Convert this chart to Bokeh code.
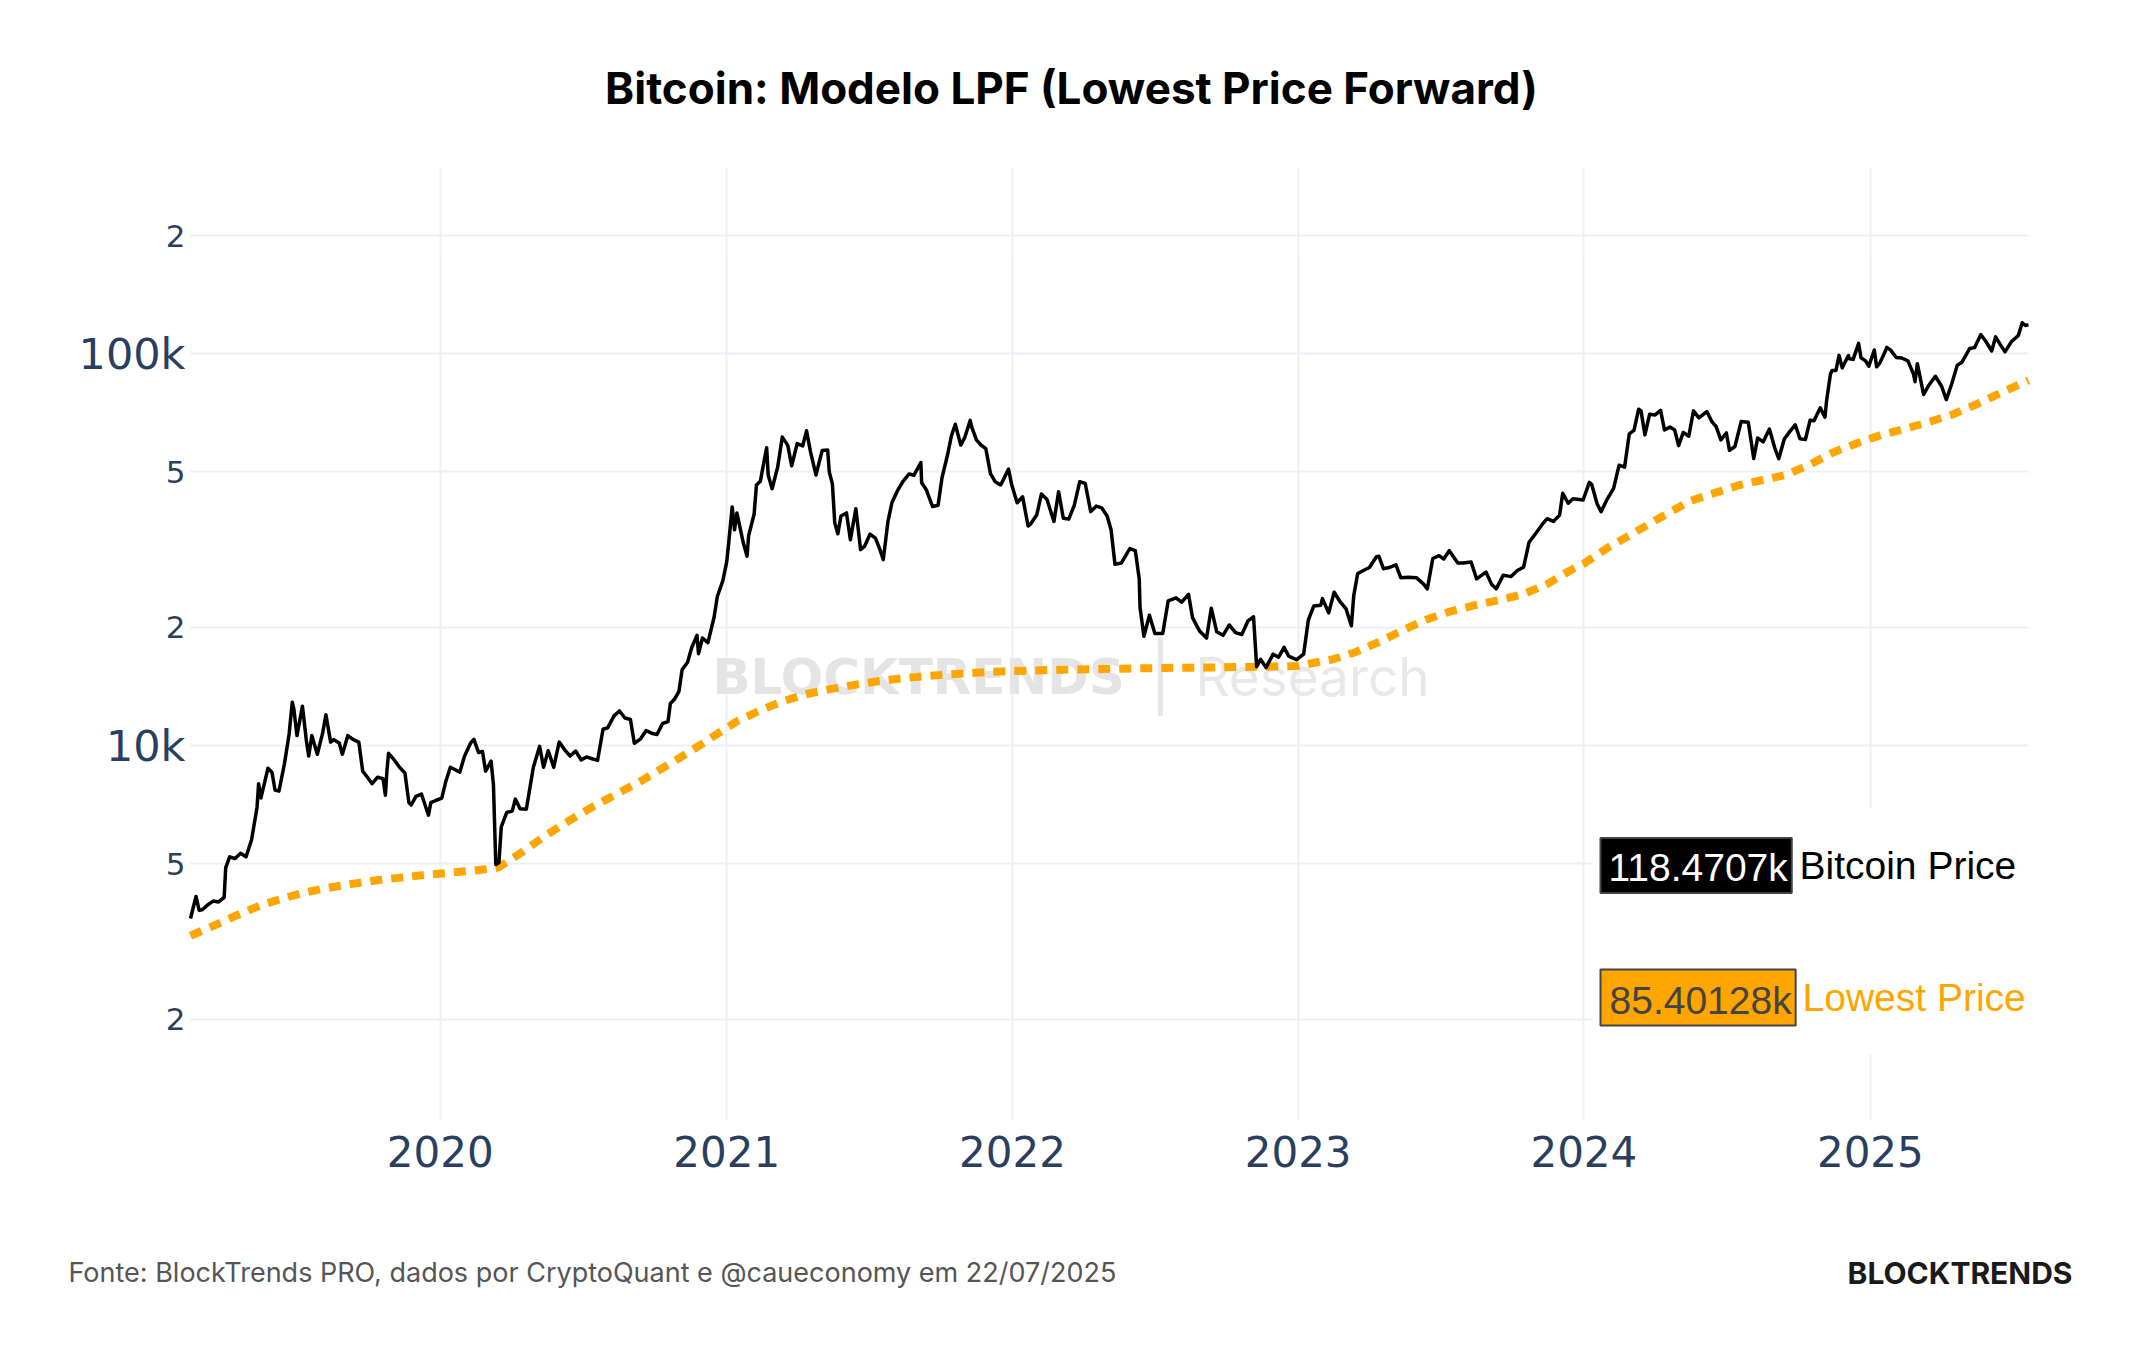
import pandas as pd
from bokeh.plotting import figure
from bokeh.layouts import column
from bokeh.models import (Label, FixedTicker, BoxAnnotation, Range1d)
from bokeh.core.properties import value
from bokeh.embed import file_html
from bokeh.resources import INLINE

# ---------------- data ----------------
btc_dates = [
"2019-02-16","2019-02-23","2019-02-27","2019-03-03","2019-03-10","2019-03-17","2019-03-24","2019-03-31",
"2019-04-02","2019-04-07","2019-04-14","2019-04-21","2019-04-28","2019-05-05","2019-05-12","2019-05-14",
"2019-05-17","2019-05-21","2019-05-26","2019-05-31","2019-06-04","2019-06-09","2019-06-16","2019-06-22",
"2019-06-26","2019-06-28","2019-07-02","2019-07-09","2019-07-14","2019-07-17","2019-07-21","2019-07-28",
"2019-08-04","2019-08-08","2019-08-14","2019-08-18","2019-08-25","2019-08-29","2019-09-05","2019-09-12",
"2019-09-19","2019-09-24","2019-09-30","2019-10-06","2019-10-13","2019-10-20","2019-10-23","2019-10-25",
"2019-10-27","2019-11-03","2019-11-10","2019-11-17","2019-11-22","2019-11-25","2019-12-01","2019-12-08",
"2019-12-17","2019-12-20","2019-12-27",
"2020-01-03","2020-01-08","2020-01-14","2020-01-19","2020-01-26","2020-02-01","2020-02-09","2020-02-13",
"2020-02-19","2020-02-24","2020-02-28","2020-03-06","2020-03-09","2020-03-12","2020-03-16","2020-03-19",
"2020-03-26","2020-04-02","2020-04-06","2020-04-12","2020-04-20","2020-04-29","2020-05-07","2020-05-12",
"2020-05-18","2020-05-25","2020-06-01","2020-06-08","2020-06-15","2020-06-22","2020-06-29","2020-07-06",
"2020-07-13","2020-07-20","2020-07-27","2020-08-02","2020-08-10","2020-08-17","2020-08-24","2020-08-31",
"2020-09-05","2020-09-13","2020-09-20","2020-09-27","2020-10-04","2020-10-11","2020-10-18","2020-10-21",
"2020-10-26","2020-11-01","2020-11-05","2020-11-12","2020-11-17","2020-11-24","2020-11-26","2020-12-01",
"2020-12-08","2020-12-16","2020-12-20","2020-12-27",
"2021-01-01","2021-01-03","2021-01-08","2021-01-11","2021-01-14","2021-01-22","2021-01-27","2021-01-29",
"2021-02-05","2021-02-08","2021-02-13","2021-02-17","2021-02-21","2021-02-23","2021-02-28","2021-03-07",
"2021-03-13","2021-03-20","2021-03-25","2021-04-01","2021-04-08","2021-04-13","2021-04-18","2021-04-25",
"2021-05-03","2021-05-10","2021-05-12","2021-05-16","2021-05-19","2021-05-23","2021-05-27","2021-06-03",
"2021-06-08","2021-06-15","2021-06-21","2021-06-26","2021-07-03","2021-07-10","2021-07-16","2021-07-20",
"2021-07-26","2021-07-31","2021-08-07","2021-08-14","2021-08-22","2021-08-28","2021-09-06","2021-09-07",
"2021-09-13","2021-09-21","2021-09-28","2021-10-03","2021-10-10","2021-10-15","2021-10-20","2021-10-27",
"2021-11-01","2021-11-08","2021-11-10","2021-11-16","2021-11-21","2021-11-28","2021-12-04","2021-12-10",
"2021-12-17","2021-12-27","2021-12-31",
"2022-01-07","2022-01-14","2022-01-21","2022-01-24","2022-02-01","2022-02-07","2022-02-14","2022-02-23",
"2022-03-01","2022-03-07","2022-03-14","2022-03-21","2022-03-28","2022-04-04","2022-04-11","2022-04-18",
"2022-04-25","2022-05-02","2022-05-07","2022-05-12","2022-05-20","2022-05-31","2022-06-07","2022-06-12",
"2022-06-13","2022-06-18","2022-06-25","2022-07-02","2022-07-12","2022-07-19","2022-07-29","2022-08-05",
"2022-08-14","2022-08-19","2022-08-28","2022-09-06","2022-09-12","2022-09-19","2022-09-27","2022-10-05",
"2022-10-13","2022-10-21","2022-10-29","2022-11-05","2022-11-09","2022-11-14","2022-11-21","2022-11-30",
"2022-12-07","2022-12-14","2022-12-20","2022-12-30",
"2023-01-08","2023-01-14","2023-01-21","2023-01-30","2023-02-01","2023-02-09","2023-02-16","2023-02-24",
"2023-03-03","2023-03-10","2023-03-13","2023-03-18","2023-03-26","2023-04-02","2023-04-11","2023-04-14",
"2023-04-20","2023-04-26","2023-05-06","2023-05-12","2023-05-22","2023-06-01","2023-06-10","2023-06-15",
"2023-06-22","2023-06-30","2023-07-06","2023-07-13","2023-07-24","2023-07-31","2023-08-10","2023-08-17",
"2023-08-29","2023-09-05","2023-09-11","2023-09-20","2023-09-30","2023-10-08","2023-10-16","2023-10-23",
"2023-10-31","2023-11-09","2023-11-15","2023-11-23","2023-12-01","2023-12-05","2023-12-12","2023-12-18",
"2023-12-31",
"2024-01-08","2024-01-11","2024-01-18","2024-01-23","2024-01-31","2024-02-08","2024-02-15","2024-02-22",
"2024-02-28","2024-03-05","2024-03-11","2024-03-14","2024-03-19","2024-03-25","2024-04-01","2024-04-08",
"2024-04-13","2024-04-20","2024-04-26","2024-05-01","2024-05-07","2024-05-14","2024-05-20","2024-05-27",
"2024-06-06","2024-06-13","2024-06-18","2024-06-24","2024-07-01","2024-07-05","2024-07-12","2024-07-20",
"2024-07-29","2024-08-05","2024-08-10","2024-08-17","2024-08-25","2024-09-01","2024-09-06","2024-09-13",
"2024-09-20","2024-09-27","2024-10-03","2024-10-10","2024-10-16","2024-10-21","2024-10-29","2024-11-04",
"2024-11-06","2024-11-11","2024-11-13","2024-11-18","2024-11-22","2024-11-26","2024-12-04","2024-12-05",
"2024-12-10","2024-12-17","2024-12-20","2024-12-26","2024-12-30",
"2025-01-06","2025-01-09","2025-01-13","2025-01-20","2025-01-22","2025-01-27","2025-02-03","2025-02-10",
"2025-02-18","2025-02-25","2025-02-27","2025-03-02","2025-03-10","2025-03-16","2025-03-25","2025-04-02",
"2025-04-08","2025-04-15","2025-04-22","2025-04-28","2025-05-08","2025-05-14","2025-05-22","2025-05-28",
"2025-06-05","2025-06-10","2025-06-17","2025-06-22","2025-06-30","2025-07-09","2025-07-14","2025-07-18",
"2025-07-22",
]
btc_prices = [
3620,4120,3800,3810,3920,4010,3990,4100,
4880,5200,5150,5310,5200,5750,6950,7990,
7350,7950,8750,8550,7700,7650,8980,10700,
12900,12400,10600,12600,10300,9400,10600,9500,
10800,11980,10200,10350,10150,9500,10600,10350,
10200,8600,8300,7990,8300,8230,7470,8660,
9550,9200,8800,8500,7150,7050,7420,7520,
6640,7150,7250,
7340,8080,8800,8700,8550,9390,10160,10370,
9600,9650,8600,9120,7950,4970,5020,6200,
6750,6800,7300,6900,6880,8800,9950,8800,
9700,8800,10200,9750,9400,9680,9190,9350,
9250,9160,11000,11100,11900,12250,11750,11650,
10130,10400,10920,10750,10670,11380,11500,12800,
13100,13750,15600,16300,17700,19100,17150,18800,
18300,21300,24000,26300,
29400,32100,40600,35500,39200,33000,30400,34300,
38900,46200,47200,52200,57500,48900,45200,51200,
61200,58300,51700,58900,58100,63500,56200,49000,
56600,56700,49900,46500,37000,34700,38500,39200,
33500,40200,31600,32200,34600,33800,31500,29800,
37300,41600,44600,47100,49300,48900,52700,46800,
44900,40700,41000,48200,55000,61600,66000,58400,
61000,67500,64900,60200,58600,57200,49300,47100,
46200,50700,46300,
41600,43100,36300,36700,38700,43800,42500,37300,
44400,38000,37800,41000,47100,46600,39500,40800,
40400,38500,35500,29000,29200,31800,31400,26600,
22500,19000,21500,19300,19300,23400,23800,23200,
24300,21200,19600,18800,22400,19500,19100,20300,
19400,19200,20800,21300,15900,16600,15800,17100,
16800,17800,16900,16550,
17100,20900,22700,22800,23700,21800,24600,23200,
22350,20200,24100,27450,27990,28450,30300,30400,
28250,28400,28900,26800,26850,26800,25850,25100,
30000,30500,29900,31400,29200,29200,29400,26600,
27700,25800,25100,27200,26970,27950,28500,33000,
34650,36700,37900,37300,38700,44000,41500,42600,
42300,
46900,46300,41300,39500,42600,45300,51900,51300,
62400,63700,72100,71400,62000,70000,69700,71600,
63800,64900,63800,58200,62900,61500,71400,68500,
71100,66800,65100,60200,62700,56600,57900,67100,
66800,54000,60900,59500,64200,57300,53900,60500,
63200,65800,60600,60300,67600,67400,72700,68800,
75600,88700,90500,90500,98900,91900,98800,97000,
96600,106100,97500,95700,92800,
102100,92500,94500,101300,103700,102000,97700,97400,
95800,88700,84700,94200,78600,82600,87500,82500,
76300,83700,93400,95000,103000,103500,111700,107800,
101500,110300,104600,101000,107100,111200,119800,117900,
118470,
]

lpf_dates = [
"2019-02-16","2019-03-15","2019-04-15","2019-05-15","2019-06-15","2019-07-15","2019-08-15","2019-09-15",
"2019-10-15","2019-11-15","2019-12-15","2020-01-15","2020-02-15","2020-03-15","2020-04-15","2020-05-15",
"2020-06-15","2020-07-15","2020-08-15","2020-09-15","2020-10-15","2020-11-15","2020-12-15","2021-01-15",
"2021-02-15","2021-03-15","2021-04-15","2021-05-15","2021-06-15","2021-07-15","2021-08-15","2021-09-15",
"2021-10-15","2021-11-15","2021-12-15","2022-01-15","2022-03-15","2022-05-15","2022-07-15","2022-09-15",
"2022-11-15","2022-12-31","2023-02-15","2023-03-15","2023-04-15","2023-05-15","2023-06-15","2023-07-15",
"2023-08-15","2023-09-15","2023-10-15","2023-11-15","2023-12-15","2024-01-01","2024-02-01","2024-03-01",
"2024-04-01","2024-05-15","2024-06-15","2024-07-15","2024-08-15","2024-09-15","2024-10-15","2024-11-15",
"2024-12-15","2025-01-15","2025-02-15","2025-03-15","2025-04-15","2025-05-15","2025-06-15","2025-07-22",
]
lpf_prices = [
3270,3450,3680,3900,4080,4230,4350,4450,
4540,4610,4680,4740,4800,4880,5350,5900,
6450,7000,7550,8150,8850,9650,10550,11550,
12350,13000,13550,13950,14300,14600,14850,15050,
15200,15330,15440,15520,15620,15700,15770,15820,
15880,15950,16600,17300,18400,19700,21000,22000,
22800,23500,24300,25800,28000,29100,32000,34500,
37500,42000,44000,46000,47500,49000,52000,56000,
59000,62000,64300,66700,69800,74000,79000,85401,
]

y_major_ticks = [10000, 100000]
y_major_labels = ["10k", "100k"]
y_minor_ticks = [2000, 5000, 20000, 50000, 200000]
y_minor_labels = ["2", "5", "2", "5", "2"]
x_years = [2020, 2021, 2022, 2023, 2024, 2025]

title_text = "Bitcoin: Modelo LPF (Lowest Price Forward)"
source_text = "Fonte: BlockTrends PRO, dados por CryptoQuant e @caueconomy em 22/07/2025"
brand_text = "BLOCKTRENDS"
last_btc_text = "118.4707k"
last_lpf_text = "85.40128k"

# ---------------- layout constants ----------------
W = 2144
HEAD_H = 167
FOOT_H = 150
MAIN_H = 1350 - HEAD_H - FOOT_H     # 1033
MB = 80
FH = MAIN_H - MB                      # 953
PL, PR = 190, 2028                    # plot region (data extent) on the canvas
GRID = "#EBF0F8"
TICK = "#2a3f5f"


def blank_fig(h):
    f = figure(width=W, height=h, x_range=Range1d(0, W), y_range=Range1d(0, h),
               output_backend="svg", toolbar_location=None,
               x_axis_location=None, y_axis_location=None,
               min_border=0, min_border_left=0, min_border_right=0,
               min_border_top=0, min_border_bottom=0)
    for g in f.grid:
        g.visible = False
    f.outline_line_color = None
    f.background_fill_color = "white"
    f.border_fill_color = "white"
    return f


# ---------------- header ----------------
head = blank_fig(HEAD_H)
head.add_layout(Label(x=1071, y=HEAD_H - 87, text=title_text,
                      text_font="Inter", text_font_style="bold", text_font_size="44px",
                      text_color="black", text_align="center", text_baseline="middle"))

# ---------------- main chart ----------------
bd = pd.to_datetime(btc_dates)
ld = pd.to_datetime(lpf_dates)
t0, t1 = bd[0], bd[-1]
mpp = (t1 - t0) / (PR - PL)           # time per pixel
xr = Range1d(t0 - PL * mpp, t1 + (W - PR) * mpp)

p = figure(width=W, height=MAIN_H, x_axis_type="datetime", y_axis_type="log",
           y_axis_location=None,
           output_backend="svg", toolbar_location=None,
           x_range=xr, y_range=Range1d(1105, 298200),
           min_border_left=0, min_border_right=0, min_border_top=0, min_border_bottom=MB,
           background_fill_color="white", border_fill_color="white")
p.outline_line_color = None
for g in p.ygrid:
    g.visible = False

xticks = [pd.Timestamp(f"{y}-01-01").value // 10**6 for y in x_years]
p.xaxis.ticker = FixedTicker(ticks=xticks)
p.xaxis.major_label_overrides = {t: str(y) for t, y in zip(xticks, x_years)}
ax = p.xaxis[0]
ax.axis_line_color = None
ax.major_tick_line_color = None
ax.minor_tick_line_color = None
ax.major_tick_out = 0
ax.major_tick_in = 0
ax.major_label_text_font = "DejaVu Sans"
ax.major_label_text_color = TICK
ax.major_label_text_font_size = "42px"
ax.major_label_standoff = 15

p.xgrid.grid_line_color = GRID
p.xgrid.grid_line_width = 2
p.xgrid.ticker = ax.ticker

# horizontal grid lines, spanning the data extent
all_y = sorted(y_minor_ticks + y_major_ticks)
p.segment(x0=[t0] * len(all_y), x1=[t1] * len(all_y), y0=all_y, y1=all_y,
          line_color=GRID, line_width=2)

# y tick labels (plotly-style log labels: large decades, small sub-labels)
p.text(x=[t0] * len(y_major_ticks), y=y_major_ticks, text=y_major_labels,
       x_offset=-5, text_align="right", text_baseline="middle",
       text_font=value("DejaVu Sans"), text_font_size="43px", text_color=TICK)
p.text(x=[t0] * len(y_minor_ticks), y=y_minor_ticks, text=y_minor_labels,
       x_offset=-5, text_align="right", text_baseline="middle",
       text_font=value("DejaVu Sans"), text_font_size="31px", text_color=TICK)

FB = HEAD_H + FH   # canvas y of frame bottom = 1120


def fy(y):
    return FB - y


# watermark
wm_y = fy(676)
p.add_layout(Label(x=712, y=wm_y, x_units="screen", y_units="screen", text="BLOCKTRENDS",
                   text_font="DejaVu Sans", text_font_style="bold", text_font_size="50px",
                   text_color="#e4e4e4", text_baseline="middle", level="underlay"))
p.add_layout(Label(x=1160, y=wm_y, x_units="screen", y_units="screen", text="|",
                   text_font="Inter", text_font_size="66px",
                   text_color="#e6e6e6", text_baseline="middle", text_align="center", level="underlay"))
p.add_layout(Label(x=1195, y=wm_y, x_units="screen", y_units="screen", text="Research",
                   text_font="Inter", text_font_size="53px",
                   text_color="#e8e8e8", text_baseline="middle", level="underlay"))

# lines
p.line(ld, lpf_prices, line_color="#FFA500", line_width=8, line_dash="12 9")
p.line(bd, btc_prices, line_color="black", line_width=3.5, line_join="round")

# white background behind value annotations (covers grid)
p.add_layout(BoxAnnotation(left=1592, right=PR + 4, bottom=fy(1053), top=fy(808),
                           left_units="screen", right_units="screen",
                           bottom_units="screen", top_units="screen",
                           fill_color="white", fill_alpha=1.0, line_color=None, level="glyph"))

# value annotations
p.add_layout(Label(x=1600, y=fy(865), x_units="screen", y_units="screen",
                   text=last_btc_text, text_font="Liberation Sans", text_font_size="39px",
                   text_color="white", text_baseline="middle",
                   background_fill_color="black", border_line_color="#444444", border_line_width=2,
                   padding=(8, 4, 8, 4)))
p.add_layout(Label(x=1799, y=fy(865), x_units="screen", y_units="screen",
                   text="Bitcoin Price", text_font="Liberation Sans", text_font_size="39px",
                   text_color="black", text_baseline="middle"))
p.add_layout(Label(x=1600, y=fy(997), x_units="screen", y_units="screen",
                   text=last_lpf_text, text_font="Liberation Sans", text_font_size="39px",
                   text_color="#444444", text_baseline="middle",
                   background_fill_color="#FFA500", border_line_color="#444444", border_line_width=2,
                   padding=(9, 4, 9, 4)))
p.add_layout(Label(x=1802, y=fy(997), x_units="screen", y_units="screen",
                   text="Lowest Price", text_font="Liberation Sans", text_font_size="39px",
                   text_color="#FFA500", text_baseline="middle"))

# ---------------- footer ----------------
foot = blank_fig(FOOT_H)
foot.add_layout(Label(x=68, y=FOOT_H - 72, text=source_text,
                      text_font="Inter", text_font_size="27px",
                      text_color="#555555", text_baseline="middle"))
foot.add_layout(Label(x=2072, y=FOOT_H - 72, text=brand_text,
                      text_font="Inter", text_font_style="bold", text_font_size="30px",
                      text_color="#1a1a1a", text_align="right", text_baseline="middle"))

layout = column(head, p, foot, spacing=0)
open("out.html", "w").write(file_html(layout, INLINE))
